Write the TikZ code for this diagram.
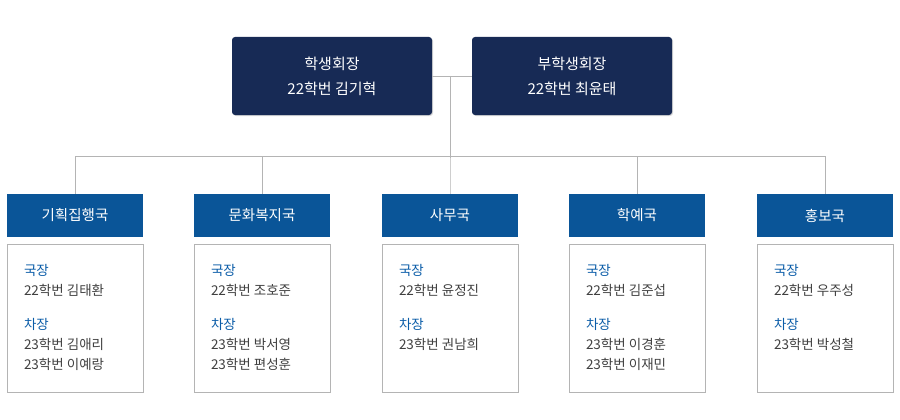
\documentclass[tikz,border=0pt]{standalone}
\usepackage{fontspec}
\setmainfont{Noto Sans CJK KR}
\usetikzlibrary{positioning,shadows}
\definecolor{navy}{HTML}{172A55}
\definecolor{deptblue}{HTML}{0A5598}
\definecolor{roleblue}{HTML}{0A5CA8}
\definecolor{linegray}{HTML}{B4B4B4}
\tikzset{
  head/.style={rectangle, rounded corners=3pt, fill=navy, text=white, minimum width=200pt, minimum height=78pt, align=center, font=\fontsize{15}{25}\selectfont, drop shadow={opacity=0.3,shadow xshift=1pt,shadow yshift=-1pt}},
  dept/.style={rectangle, fill=deptblue, text=white, minimum width=136pt, minimum height=43pt, font=\fontsize{14.5}{18}\selectfont},
  body/.style={rectangle, draw=linegray, fill=white, minimum width=136pt, minimum height=148pt},
  members/.style={align=left, anchor=north west, inner sep=0pt, font=\fontsize{13.5}{20}\selectfont, text=black!75},
  link/.style={draw=linegray, line width=0.8pt}
}
\newcommand{\role}[1]{\textcolor{roleblue}{#1}}
\begin{document}
\begin{tikzpicture}[x=1pt,y=-1pt]
\useasboundingbox (0,0) rectangle (900,420);
% leaders
\node (pres) [head] at (332,76) {학생회장\\22학번 김기혁};
\node (vice) [head] at (572,76) {부학생회장\\22학번 최윤태};
\coordinate (hub) at (450,76);
\coordinate (bus) at (450,157);
\draw[link] (pres.east) -- (vice.west);
\draw[link] (hub) -- (bus);
% departments
\foreach \n/\x/\t in {d1/75/기획집행국, d2/262/문화복지국, d3/450/사무국, d4/637/학예국, d5/825/홍보국}{
  \node (\n) [dept] at (\x,215.5) {\t};
  \node (\n b) [body] at (\x,318) {};
  \draw[link] (\n.north) -- ++(0,-37) -| (bus);
}
% members
\node [members] at ([shift={(17,20)}]d1b.north west) {\role{국장}\\22학번 김태환\\[14pt]\role{차장}\\23학번 김애리\\23학번 이예랑};
\node [members] at ([shift={(17,20)}]d2b.north west) {\role{국장}\\22학번 조호준\\[14pt]\role{차장}\\23학번 박서영\\23학번 편성훈};
\node [members] at ([shift={(17,20)}]d3b.north west) {\role{국장}\\22학번 윤정진\\[14pt]\role{차장}\\23학번 권남희};
\node [members] at ([shift={(17,20)}]d4b.north west) {\role{국장}\\22학번 김준섭\\[14pt]\role{차장}\\23학번 이경훈\\23학번 이재민};
\node [members] at ([shift={(17,20)}]d5b.north west) {\role{국장}\\22학번 우주성\\[14pt]\role{차장}\\23학번 박성철};
\end{tikzpicture}
\end{document}
